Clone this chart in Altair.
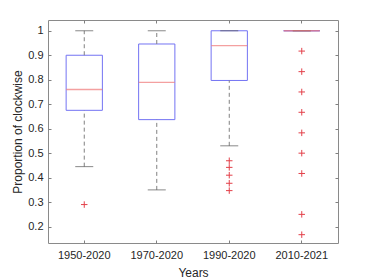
import altair as alt
import pandas as pd

cats = ["1950-2020", "1970-2020", "1990-2020", "2010-2021"]
lower_whisker = [0.445, 0.35, 0.53, 1.0]
q1 = [0.675, 0.637, 0.797, 1.0]
median = [0.76, 0.789, 0.939, 1.0]
q3 = [0.90, 0.946, 1.0, 1.0]
upper_whisker = [1.0, 1.0, 1.0, 1.0]

outlier_cats = ["1950-2020"] + ["1990-2020"] * 5 + ["2010-2021"] * 9
outlier_vals = [0.29,
                0.469, 0.442, 0.410, 0.377, 0.347,
                0.917, 0.833, 0.75, 0.667, 0.583, 0.5, 0.417, 0.25, 0.167]

y_ticks = [0.2, 0.3, 0.4, 0.5, 0.6, 0.7, 0.8, 0.9, 1.0]

stats = pd.DataFrame({"cat": cats, "lw": lower_whisker, "q1": q1, "med": median,
                      "q3": q3, "uw": upper_whisker})
outl = pd.DataFrame({"cat": outlier_cats, "val": outlier_vals})

FONT = "Liberation Sans"
TXT = "#262626"

xscale = alt.Scale(domain=cats, paddingInner=0, paddingOuter=0)
yscale = alt.Scale(domain=[0.133, 1.044], nice=False, zero=False)

xax = alt.Axis(title="Years", labelAngle=0, domain=False, ticks=True,
               tickSize=3, offset=-3, tickColor="#808080",
               labelPadding=6, titlePadding=7, labelFontSize=11,
               titleFontSize=12, labelColor=TXT, titleColor=TXT,
               labelFont=FONT, titleFont=FONT, titleFontWeight="normal")
yax = alt.Axis(title="Proportion of clockwise", values=y_ticks, format="~g",
               labelOverlap=False, tickCount=9,
               domain=False, grid=False, tickSize=3, offset=-3, tickColor="#808080",
               labelPadding=5, titlePadding=3, labelFontSize=11, titleFontSize=12,
               labelColor=TXT, titleColor=TXT, labelFont=FONT, titleFont=FONT,
               titleFontWeight="normal")


def X():
    return alt.X("cat:N", scale=xscale, sort=cats, axis=xax)


def Y(field):
    return alt.Y(field, type="quantitative", scale=yscale, axis=yax)


base = alt.Chart(stats)

box = base.mark_bar(filled=False, stroke="#7373f3", strokeWidth=1,
                    width=alt.RelativeBandSize(0.5)).encode(
    x=X(), y=Y("q1"), y2="q3:Q")

upper = base.mark_rule(color="#808080", strokeDash=[4, 3], strokeWidth=1).encode(
    x=X(), y=Y("q3"), y2="uw:Q")
lower = base.mark_rule(color="#808080", strokeDash=[4, 3], strokeWidth=1).encode(
    x=X(), y=Y("lw"), y2="q1:Q")

cap_hi = base.mark_tick(color="#555555", size=18, thickness=1, orient="horizontal").encode(
    x=X(), y=Y("uw"))
cap_lo = base.mark_tick(color="#555555", size=18, thickness=1, orient="horizontal").encode(
    x=X(), y=Y("lw"))

med = base.mark_tick(color="#f07878", size=36, thickness=1.3, orient="horizontal").encode(
    x=X(), y=Y("med"))

pts = alt.Chart(outl).mark_point(shape="M-1,0L1,0M0,-1L0,1", size=42, filled=False,
                                 stroke="#e3404a", strokeWidth=1, opacity=1).encode(
    x=X(), y=Y("val"))

main = alt.layer(box, upper, lower, cap_hi, cap_lo, med, pts)

ticks2 = alt.Chart(stats).mark_point(opacity=0).encode(
    x=alt.X("cat:N", sort=cats, scale=xscale,
            axis=alt.Axis(orient="top", title=None, labels=False, domain=False,
                          tickSize=3, offset=-3, tickColor="#808080")),
    y=alt.Y("med:Q", scale=yscale,
            axis=alt.Axis(orient="right", title=None, labels=False, domain=False,
                          values=y_ticks, grid=False, tickSize=3, offset=-3,
                          tickColor="#808080")))

chart = alt.layer(main, ticks2).resolve_axis(x="independent", y="independent").properties(
    width=290, height=223,
    autosize=alt.AutoSizeParams(type="none"),
    padding={"left": 40, "top": 12, "right": 28, "bottom": 38},
    background="white",
).configure_view(stroke="#8a8a8a", strokeWidth=1)

chart.save("out.html", embed_options={"renderer": "svg", "actions": False})
